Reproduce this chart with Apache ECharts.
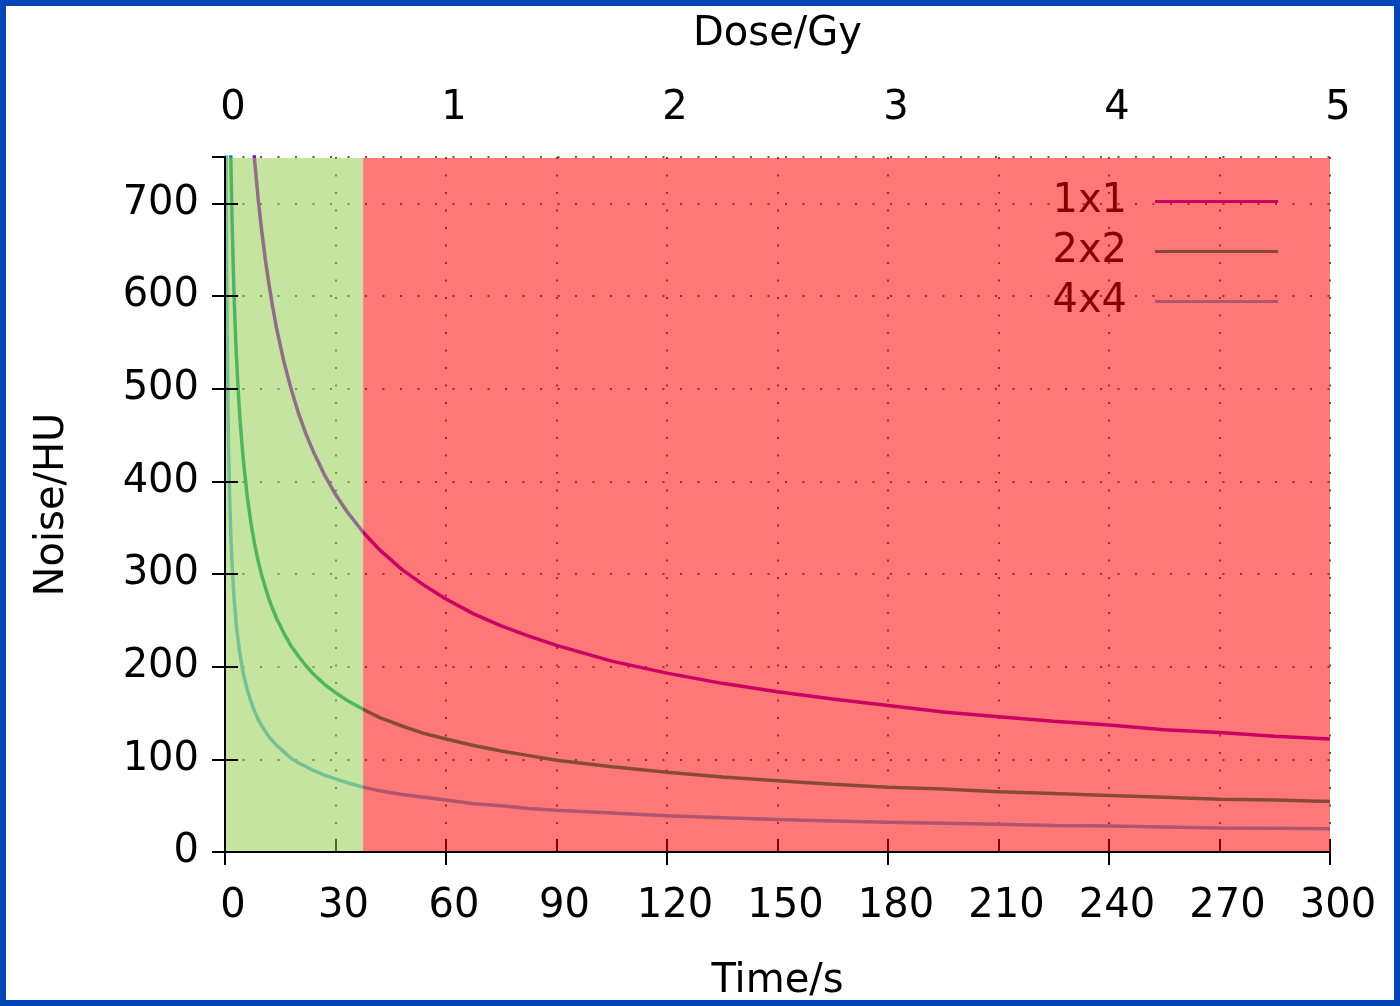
<!DOCTYPE html>
<html lang="en">
<head>
    <meta charset="UTF-8">
    <title>Noise vs time</title>
    <script src="https://cdn.jsdelivr.net/npm/echarts@6/dist/echarts.min.js"></script>
    <style>
        html, body { margin: 0; padding: 0; background: #0046b9; }
        #main { position: absolute; left: 6px; top: 6px; width: 1388px; height: 994px; background: #fff; }
    </style>
</head>
<body>
    <div id="main"></div>
    <script>
        // data
        var seriesNames = ['1x1', '2x2', '4x4'];

        var time1 = [7, 8, 9, 10, 11, 12, 13, 14, 16, 18, 20, 22, 24, 27, 30, 33, 37.5, 42, 48, 54, 60, 67.5, 75, 82.5, 90, 105, 120, 135, 150, 165, 180, 195, 210, 225, 240, 255, 270, 285, 300];
        var noise1 = [799, 748, 705, 669, 638, 611, 587, 565, 529, 499, 473, 451, 432, 407, 386, 368, 345, 326, 305, 288, 273, 257, 244, 233, 223, 206, 193, 182, 173, 165, 158, 151, 146, 141, 137, 132, 129, 125, 122];

        var time2 = [1.5, 1.6, 1.8, 2, 2.25, 2.5, 2.75, 3, 3.5, 4, 4.5, 5, 6, 7, 8, 9, 10, 12, 14, 16, 18, 20, 22, 24, 27, 30, 33, 37.5, 42, 48, 54, 60, 67.5, 75, 82.5, 90, 105, 120, 135, 150, 165, 180, 195, 210, 225, 240, 255, 270, 285, 300];
        var noise2 = [770, 745, 703, 667, 629, 596, 569, 544, 504, 471, 445, 422, 385, 356, 333, 314, 298, 272, 252, 236, 222, 211, 201, 192, 181, 172, 164, 154, 145, 136, 128, 122, 115, 109, 104, 99, 92, 86, 81, 77, 73, 70, 68, 65, 63, 61, 59, 57, 56, 54.5];

        var time4 = [0.3, 0.33, 0.4, 0.5, 0.6, 0.7, 0.8, 0.9, 1, 1.25, 1.5, 1.75, 2, 2.5, 3, 3.5, 4, 5, 6, 7, 8, 9, 10, 12, 14, 16, 18, 20, 22, 24, 27, 30, 33, 37.5, 42, 48, 54, 60, 67.5, 75, 82.5, 90, 105, 120, 135, 150, 165, 180, 195, 210, 225, 240, 255, 270, 285, 300];
        var noise4 = [785, 749, 680, 608, 555, 514, 481, 453, 430, 385, 351, 325, 304, 272, 248, 230, 215, 192, 176, 163, 152, 143, 136, 124, 115, 108, 101, 96, 92, 88, 83, 79, 75, 70, 66, 62, 59, 56, 52, 50, 47, 45, 42, 39, 37, 35, 33.5, 32, 31, 30, 28.7, 28, 27, 26, 25.5, 25];

        // shaded time ranges (s): acceptable, then too long
        var regionStart = [0, 37.5];
        var regionEnd = [37.5, 300];

        var lineColors = ['#9400d3', '#009e73', '#56b4e9'];
        var regionFills = ['rgba(145,204,75,0.53)', 'rgba(255,0,0,0.53)'];

        function pairs(xs, ys) {
            return xs.map(function (x, i) { return [x, ys[i]]; });
        }

        var chart = echarts.init(document.getElementById('main'));
        var font = 'DejaVu Sans';
        var gridLine = { show: true, lineStyle: { color: '#222', width: 1.5, type: [2, 15.5] } };

        var lines = [pairs(time1, noise1), pairs(time2, noise2), pairs(time4, noise4)].map(function (d, i) {
            return {
                name: seriesNames[i],
                type: 'line',
                data: d,
                showSymbol: false,
                smooth: false,
                color: lineColors[i],
                lineStyle: { width: 3.5 },
                z: 2
            };
        });

        // semi-transparent bands drawn over the curves, like the original
        lines.push({
            name: 'regions',
            type: 'custom',
            silent: true,
            z: 10,
            data: regionStart.map(function (s, i) { return [s, regionEnd[i]]; }),
            encode: { x: [0, 1] },
            renderItem: function (params, api) {
                var p0 = api.coord([api.value(0), 750]);
                var p1 = api.coord([api.value(1), 0]);
                var x0 = params.dataIndex === 0 ? p0[0] + 1 : p0[0];
                return {
                    type: 'rect',
                    shape: { x: x0, y: p0[1] + 1, width: p1[0] - x0, height: p1[1] - p0[1] - 1 },
                    style: { fill: regionFills[params.dataIndex] }
                };
            }
        });

        var option = {
            animation: false,
            textStyle: { fontFamily: font },
            grid: { left: 219, top: 151, width: 1105, height: 695, outerBoundsMode: 'none', containLabel: false },
            legend: {
                data: seriesNames,
                right: 111,
                top: 170,
                orient: 'vertical',
                align: 'right',
                icon: 'rect',
                itemWidth: 123,
                itemHeight: 3,
                itemGap: 9,
                textStyle: { fontSize: 40, color: '#000', fontFamily: font, padding: [0, 23, 0, 0], lineHeight: 41 }
            },
            xAxis: [
                {
                    type: 'value', position: 'bottom', min: 0, max: 300, interval: 30,
                    name: 'Time/s', nameLocation: 'middle', nameGap: 110,
                    nameTextStyle: { fontSize: 40, color: '#000', fontFamily: font },
                    axisLine: { lineStyle: { color: '#000', width: 2 } },
                    axisTick: { inside: true, length: 13, lineStyle: { color: '#000', width: 2 } },
                    axisLabel: { fontSize: 40, color: '#000', margin: 35, padding: [0, 0, 0, 16] },
                    splitLine: gridLine
                },
                {
                    type: 'value', position: 'top', min: 0, max: 5, interval: 1, z: 11,
                    name: 'Dose/Gy', nameLocation: 'middle', nameGap: 102,
                    nameTextStyle: { fontSize: 40, color: '#000', fontFamily: font },
                    axisLine: { lineStyle: { color: '#000', width: 2 } },
                    axisTick: { inside: true, length: 13, lineStyle: { color: '#000', width: 2 } },
                    axisLabel: { fontSize: 40, color: '#000', margin: 28, padding: [0, 0, 0, 16] },
                    splitLine: { show: false }
                }
            ],
            yAxis: [
                {
                    type: 'value', position: 'left', min: 0, max: 750, interval: 100, z: 11,
                    name: 'Noise/HU', nameLocation: 'middle', nameGap: 152, nameRotate: 90,
                    nameTextStyle: { fontSize: 40, color: '#000', fontFamily: font },
                    axisLine: { show: true, lineStyle: { color: '#000', width: 2 } },
                    axisTick: { show: true, inside: true, length: 13, lineStyle: { color: '#000', width: 2 } },
                    axisLabel: { fontSize: 40, color: '#000', margin: 26, showMaxLabel: false },
                    splitLine: { show: false }
                },
                {
                    type: 'value', position: 'right', min: 0, max: 750, interval: 100,
                    axisLine: { show: true, lineStyle: { color: '#000', width: 2 } },
                    axisTick: { show: true, inside: true, length: 13, lineStyle: { color: '#000', width: 2 } },
                    axisLabel: { show: false },
                    splitLine: gridLine
                }
            ],
            series: lines
        };

        chart.setOption(option);
    </script>
</body>
</html>
